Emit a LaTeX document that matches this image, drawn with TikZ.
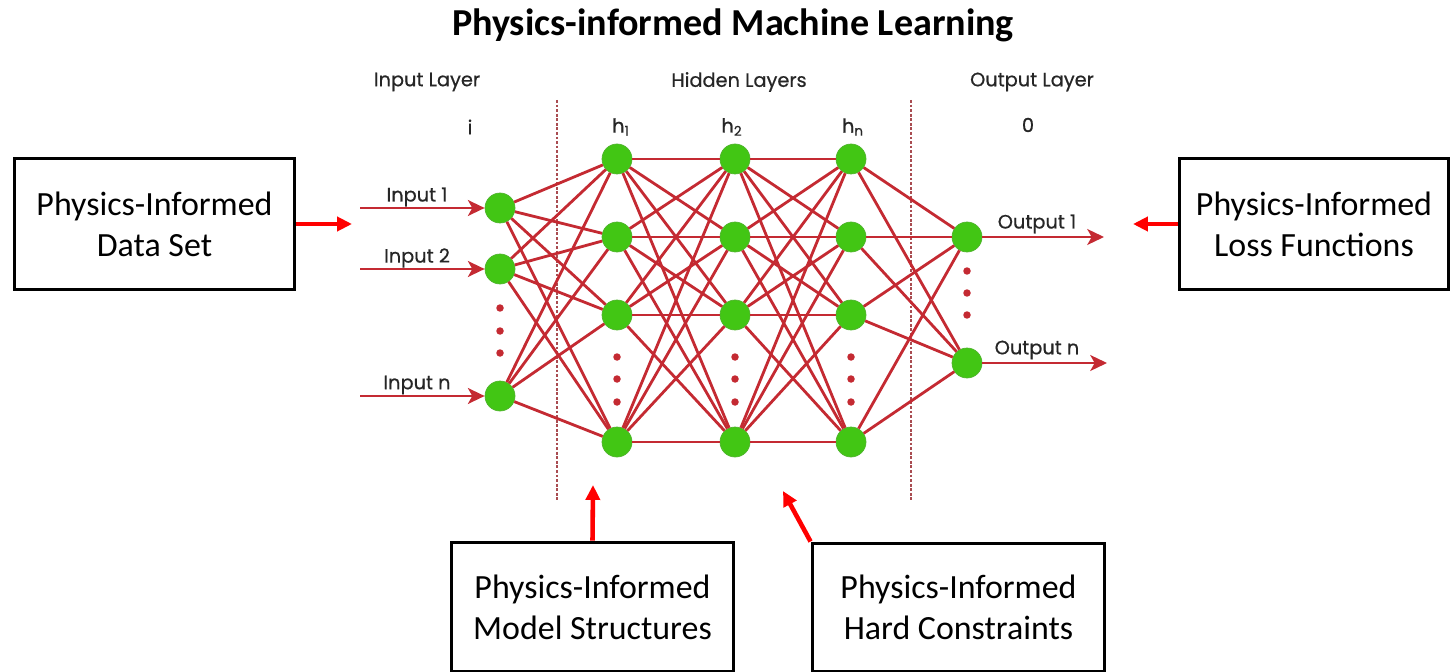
\documentclass[tikz,border=0pt]{standalone}
\usepackage{fontspec}
\setmainfont{Carlito}
\newfontfamily\netfont{Poppins}[FakeBold=0.6]
\usetikzlibrary{arrows.meta}

\definecolor{netred}{RGB}{196,42,50}
\definecolor{nodegreen}{RGB}{66,198,20}
\definecolor{pired}{RGB}{255,0,0}

\tikzset{
  neuron/.style={circle,fill=nodegreen,draw=nodegreen!75!gray,line width=0.4pt,inner sep=0pt,minimum size=0.6cm},
  synapse/.style={netred,line width=1.6pt},
  netdot/.style={circle,fill=netred,inner sep=0pt,minimum size=0.15cm},
  netlabel/.style={font=\netfont\fontsize{11}{13}\selectfont,text=black!85,inner sep=0pt},
  pibox/.style={draw,line width=1.7pt,align=center,inner sep=0pt,
    font=\fontsize{19.3}{23.5}\selectfont},
  piarrow/.style={pired,line width=2.6pt,-{Triangle[length=8.5pt,width=8pt]}},
  layersep/.style={netred!60!gray,line width=1.2pt,dash pattern=on 1.6pt off 1pt}
}

\begin{document}
\begin{tikzpicture}[x=0.02cm,y=-0.02cm,>={Stealth[length=9.5pt,width=9pt,inset=2.5pt]}]
  \useasboundingbox (0,0) rectangle (1450,672);

  % title
  \node[font=\bfseries\fontsize{21.7}{24}\selectfont] (title) at (733,25) {Physics-informed Machine Learning};

  % layer headings
  \node[netlabel] (head-in) at (427,82) {Input Layer};
  \node[netlabel] (head-hid) at (739,82) {Hidden Layers};
  \node[netlabel] (head-out) at (1032,82) {Output Layer};
  \node[netlabel] (sym-in) at (470,127) {i};
  \node[netlabel] (sym-h1) at (621,127) {h\textsubscript{1}};
  \node[netlabel] (sym-h2) at (732,127) {h\textsubscript{2}};
  \node[netlabel] (sym-hn) at (853,127) {h\textsubscript{n}};
  \node[netlabel] (sym-out) at (1028,125) {0};

  % layer separators
  \coordinate (sepA-top) at (557,100);
  \coordinate (sepA-bot) at (557,501);
  \coordinate (sepB-top) at (911,100);
  \coordinate (sepB-bot) at (911,501);
  \draw[layersep] (sepA-top) -- (sepA-bot);
  \draw[layersep] (sepB-top) -- (sepB-bot);

  % neurons
  \foreach \i/\y in {1/208,2/269,3/396}
    \node[neuron] (in\i) at (500,\y) {};
  \foreach \l/\x in {1/617,2/735,3/851}
    \foreach \j/\y in {1/159,2/237,3/315,4/442}
      \node[neuron] (h\l-\j) at (\x,\y) {};
  \foreach \k/\y in {1/237,2/363}
    \node[neuron] (out\k) at (967,\y) {};

  % weights
  \foreach \i in {1,2,3}
    \foreach \j in {1,...,4}
      \draw[synapse] (in\i) -- (h1-\j);
  \foreach \l/\m in {1/2,2/3}
    \foreach \i in {1,...,4}
      \foreach \j in {1,...,4}
        \draw[synapse] (h\l-\i) -- (h\m-\j);
  \foreach \i in {1,...,4}
    \foreach \k in {1,2}
      \draw[synapse] (h3-\i) -- (out\k);

  % ellipsis dots
  \foreach \y [count=\n] in {308,331,353}
    \node[netdot] (dot-in\n) at (500,\y) {};
  \foreach \x [count=\l] in {617,735,851}
    \foreach \y [count=\n] in {357,379,402}
      \node[netdot] (dot-h\l-\n) at (\x,\y) {};
  \foreach \y [count=\n] in {271,293,315}
    \node[netdot] (dot-out\n) at (967,\y) {};

  % inputs and outputs
  \foreach \i/\y/\t in {1/208/Input 1,2/269/Input 2,3/396/Input n}{
    \coordinate (src\i) at (360,\y);
    \draw[synapse,->] (src\i) -- (in\i);
    \node[netlabel] (lbl-in\i) at (417,\y-11) {\t};
  }
  \foreach \k/\y/\x/\t in {1/237/1104/Output 1,2/363/1107/Output n}{
    \coordinate (sink\k) at (\x,\y);
    \draw[synapse,->] (out\k) -- (sink\k);
    \node[netlabel] (lbl-out\k) at (1037,\y-13) {\t};
  }

  % physics-informed parts
  \node[pibox,minimum width=5.62cm,minimum height=2.64cm] (dataset) at (154.5,224) {Physics-Informed\\Data Set};
  \node[pibox,minimum width=5.4cm,minimum height=2.64cm] (loss) at (1314,224) {Physics-Informed\\Loss Functions};
  \node[pibox,minimum width=5.66cm,minimum height=2.6cm] (model) at (592.5,607) {Physics-Informed\\Model Structures};
  \node[pibox,minimum width=5.86cm,minimum height=2.58cm] (hard) at (958.5,607.5) {Physics-Informed\\Hard Constraints};

  \coordinate (dataset-tip) at (352,224);
  \coordinate (loss-tip) at (1133,224);
  \coordinate (model-tip) at (593,485);
  \coordinate (hard-tip) at (783,491);
  \draw[piarrow] (dataset.east) -- (dataset-tip);
  \draw[piarrow] (loss.west) -- (loss-tip);
  \draw[piarrow] (model.north) -- (model-tip);
  \draw[piarrow] (hard.north west) -- (hard-tip);
\end{tikzpicture}
\end{document}
